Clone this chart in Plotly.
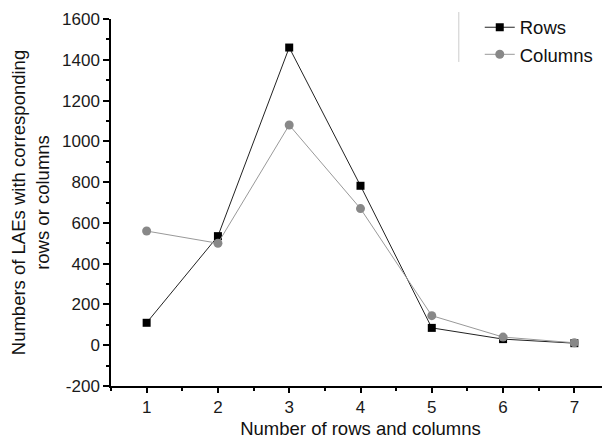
import plotly.graph_objects as go

x_vals = [1, 2, 3, 4, 5, 6, 7]
rows = [110, 535, 1460, 782, 85, 30, 10]
columns = [560, 500, 1080, 670, 145, 40, 12]
y_ticks = [-200, 0, 200, 400, 600, 800, 1000, 1200, 1400, 1600]
y_tick_labels = ["-200", "0", "200", "400", "600", "800", "1000", "1200", "1400", "1600"]

FONT = "Liberation Sans, Arial, sans-serif"

fig = go.Figure()
fig.add_trace(go.Scatter(
    x=x_vals, y=rows, name="Rows", mode="lines+markers",
    line=dict(color="#222222", width=1),
    marker=dict(symbol="square", size=8, color="#000000"),
))
fig.add_trace(go.Scatter(
    x=x_vals, y=columns, name="Columns", mode="lines+markers",
    line=dict(color="#999999", width=1),
    marker=dict(symbol="circle", size=9, color="#888888"),
))

fig.update_layout(
    width=602, height=436,
    margin=dict(l=103, r=0, t=11, b=58, autoexpand=False),
    paper_bgcolor="white", plot_bgcolor="white",
    font=dict(family=FONT, size=17, color="#1a1a1a"),
    showlegend=True,
    legend=dict(
        x=0.739, y=1.028, xanchor="left", yanchor="top",
        bgcolor="rgba(255,255,255,0)", borderwidth=0,
        font=dict(family=FONT, size=18.5, color="#111111"),
        tracegroupgap=0,
    ),
    xaxis=dict(
        range=[0.5, 7.5], tickmode="array", tickvals=x_vals,
        ticks="outside", ticklen=5, tickwidth=1.5, tickcolor="#000",
        showline=True, linecolor="#000", linewidth=1.5,
        showgrid=False, zeroline=False, automargin=False,
        minor=dict(dtick=0.5, tick0=0.5, ticks="outside", ticklen=3, tickwidth=1.5, tickcolor="#000"),
        title=dict(text="Number of rows and columns", font=dict(size=18.5, family=FONT, color="#111"), standoff=6),
        tickfont=dict(size=17, family=FONT),
    ),
    yaxis=dict(
        range=[-200, 1600], tickmode="array", tickvals=y_ticks, ticktext=y_tick_labels,
        ticks="outside", ticklen=6, tickwidth=1.5, tickcolor="#000",
        showline=True, linecolor="#000", linewidth=1.5,
        showgrid=False, zeroline=False, automargin=False,
        minor=dict(dtick=100, tick0=0, ticks="outside", ticklen=3, tickwidth=1.5, tickcolor="#000"),
        title=dict(text="Numbers of LAEs with corresponding<br>rows or columns", font=dict(size=18.5, family=FONT, color="#111"), standoff=9),
        tickfont=dict(size=17, family=FONT),
    ),
    shapes=[dict(type="line", xref="paper", yref="paper", x0=0.697, x1=0.697, y0=0.883, y1=1.019,
                 line=dict(color="#cccccc", width=1))],
)

fig.write_html("out.html")
